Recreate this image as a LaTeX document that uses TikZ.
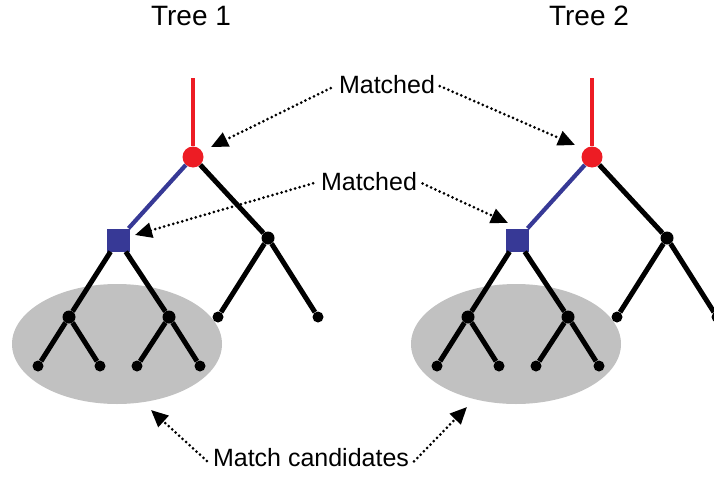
\documentclass[tikz,border=0pt]{standalone}
\usepackage{fontspec}
\setmainfont{Liberation Sans}
\usetikzlibrary{arrows.meta}
\definecolor{tred}{HTML}{ED1C24}
\definecolor{tblue}{HTML}{373996}
\definecolor{tgray}{HTML}{C1C1C1}
\begin{document}
\begin{tikzpicture}[x=1pt,y=-1pt,
  edge/.style={line width=5pt},
  rootedge/.style={line width=4.2pt,draw=tred},
  subedge/.style={line width=4.2pt,draw=tblue},
  innernode/.style={circle,fill=black,inner sep=0pt,minimum size=13pt},
  leafnode/.style={circle,fill=black,inner sep=0pt,minimum size=11pt},
  rootnode/.style={circle,fill=tred,inner sep=0pt,minimum size=21pt},
  subroot/.style={rectangle,fill=tblue,inner sep=0pt,minimum size=23pt},
  lbl/.style={font=\fontsize{25}{30}\selectfont,inner sep=0pt},
  title/.style={font=\fontsize{28}{32}\selectfont,inner sep=0pt},
  ptr/.style={line width=3pt,line cap=round,dash pattern=on 0pt off 4.7pt,
    -{Triangle[length=17pt,width=15pt]}},
  candidate/.style={fill=tgray}]
\useasboundingbox (0,0) rectangle (714,479);
\foreach \t/\dx in {1/0,2/399} {
  \begin{scope}[xshift=\dx pt]
    \fill[candidate] (117,344) ellipse [x radius=105, y radius=60];
    \coordinate (top\t) at (193,78);
    \node[rootnode] (r\t) at (193,157) {};
    \node[subroot] (s\t) at (118,240) {};
    \node[innernode] (ri\t) at (268,238) {};
    \node[leafnode] (rl\t) at (218,317) {};
    \node[leafnode] (rr\t) at (318,317) {};
    \node[innernode] (a\t) at (69,317) {};
    \node[innernode] (b\t) at (169,317) {};
    \node[leafnode] (a1\t) at (38,366) {};
    \node[leafnode] (a2\t) at (100,366) {};
    \node[leafnode] (b1\t) at (137,366) {};
    \node[leafnode] (b2\t) at (200,366) {};
    \draw[rootedge] (top\t) -- (r\t);
    \draw[subedge] (r\t) -- (s\t);
    \draw[edge] (r\t) -- (ri\t);
    \draw[edge] (ri\t) -- (rl\t);
    \draw[edge] (ri\t) -- (rr\t);
    \draw[edge] (s\t) -- (a\t);
    \draw[edge] (s\t) -- (b\t);
    \draw[edge] (a\t) -- (a1\t);
    \draw[edge] (a\t) -- (a2\t);
    \draw[edge] (b\t) -- (b1\t);
    \draw[edge] (b\t) -- (b2\t);
  \end{scope}
}
\node[title] (tree1) at (191,16) {Tree 1};
\node[title] (tree2) at (589,16) {Tree 2};
\node[lbl,anchor=base] (m1) at (387,93) {Matched};
\node[lbl,anchor=base] (m2) at (369,190) {Matched};
\node[lbl,anchor=base] (mc) at (311,466) {Match candidates};
\coordinate (tipA) at (211,147);
\coordinate (tipB) at (575,145);
\coordinate (tipC) at (135,235);
\coordinate (tipD) at (508,223);
\coordinate (tipE) at (151,410);
\coordinate (tipF) at (467,407);
\draw[ptr,shorten <=9pt] (m1.west) -- (tipA);
\draw[ptr,shorten <=5pt] (m1.east) -- (tipB);
\draw[ptr,shorten <=8pt] (m2.west) -- (tipC);
\draw[ptr,shorten <=6pt] (m2.east) -- (tipD);
\draw[ptr,shorten <=8pt] (mc.south west) -- (tipE);
\draw[ptr,shorten <=7pt] (mc.south east) -- (tipF);
\end{tikzpicture}
\end{document}
